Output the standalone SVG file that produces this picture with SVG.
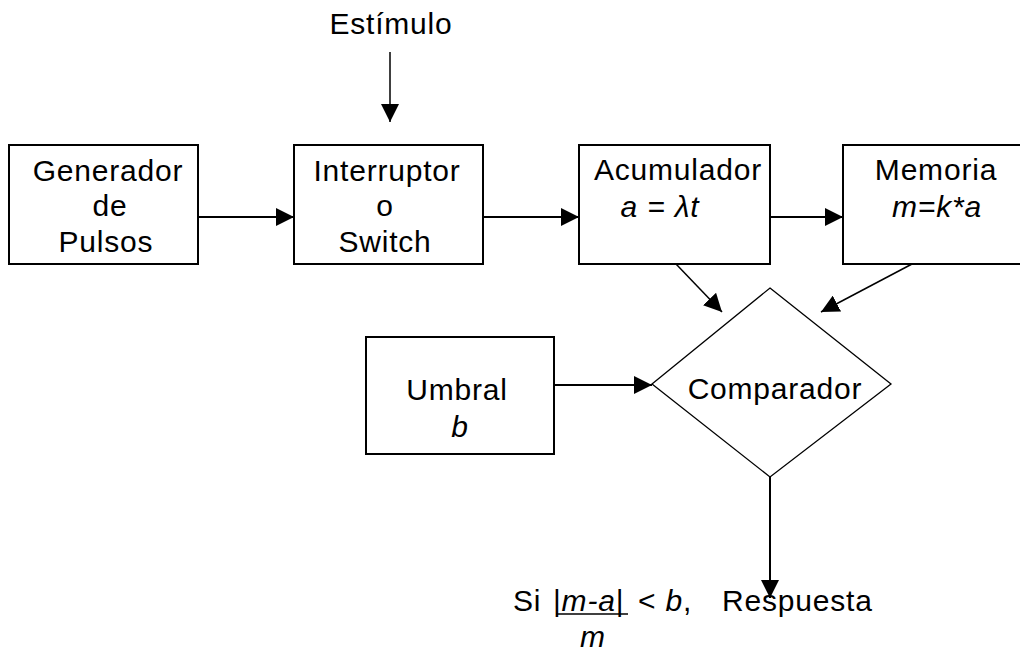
<svg xmlns="http://www.w3.org/2000/svg" width="1020" height="657" viewBox="0 0 1020 657">
<defs>
<style>
.box{fill:#fff;stroke:#000;stroke-width:2}
.dia{fill:#fff;stroke:#000;stroke-width:1.3}
.t{font-family:"Liberation Sans",Arial,sans-serif;font-size:30px;fill:#000;text-anchor:middle;letter-spacing:0.8px}
.l{text-anchor:start}
.i{font-style:italic}
.c{stroke:#000;stroke-width:1.5;fill:none}
.c2{stroke:#000;stroke-width:2;fill:none}
</style>
<marker id="ah" viewBox="0 0 18 18" markerWidth="18" markerHeight="18" refX="18" refY="9" orient="auto" markerUnits="userSpaceOnUse">
<path d="M0,0 L18,9 L0,18 Z" fill="#000"/>
</marker>
</defs>
<rect width="1020" height="657" fill="#fff"/>
<g id="connectors">
<line class="c" x1="390" y1="52" x2="390" y2="122" marker-end="url(#ah)"/>
<line class="c2" x1="198" y1="217" x2="294" y2="217" marker-end="url(#ah)"/>
<line class="c2" x1="483" y1="217" x2="579" y2="217" marker-end="url(#ah)"/>
<line class="c2" x1="770" y1="217" x2="843" y2="217" marker-end="url(#ah)"/>
<line class="c" x1="676" y1="264" x2="722" y2="312" marker-end="url(#ah)"/>
<line class="c" x1="912" y1="264" x2="821" y2="312" marker-end="url(#ah)"/>
<line class="c2" x1="554" y1="385" x2="652" y2="385" marker-end="url(#ah)"/>
<line class="c2" x1="770" y1="477" x2="770" y2="598" marker-end="url(#ah)"/>
</g>
<g id="estimulo">
<text class="t" x="391" y="34">Estímulo</text>
</g>
<g id="generador">
<rect class="box" x="9" y="145" width="189" height="119"/>
<text class="t" x="108" y="181">Generador</text>
<text class="t" x="110" y="216">de</text>
<text class="t" x="106" y="252">Pulsos</text>
</g>
<g id="interruptor">
<rect class="box" x="294" y="145" width="189" height="119"/>
<text class="t" x="387" y="181">Interruptor</text>
<text class="t" x="385" y="216">o</text>
<text class="t" x="385" y="252">Switch</text>
</g>
<g id="acumulador">
<rect class="box" x="579" y="145" width="191" height="119"/>
<text class="t" x="678" y="180">Acumulador</text>
<text class="t i" x="660" y="217">a = λt</text>
</g>
<g id="memoria">
<rect class="box" x="843" y="145" width="191" height="119"/>
<text class="t" x="936" y="180">Memoria</text>
<text class="t i" x="937" y="217">m=k*a</text>
</g>
<g id="umbral">
<rect class="box" x="366" y="337" width="188" height="117"/>
<text class="t" x="457" y="400">Umbral</text>
<text class="t i" x="460" y="437">b</text>
</g>
<g id="comparador">
<polygon class="dia" points="770,288 891,384 770,477 652,384"/>
<text class="t" x="775" y="399">Comparador</text>
</g>
<g id="respuesta">
<text class="t l" x="513" y="611">Si</text>
<text class="t l" x="553" y="611">|<tspan class="i">m-a</tspan>|</text>
<line x1="556" y1="614" x2="628" y2="614" stroke="#000" stroke-width="1.5"/>
<text class="t l" x="638" y="611">&lt; <tspan class="i">b</tspan>,</text>
<text class="t l" x="722" y="611">Respuesta</text>
<text class="t i" x="593" y="647">m</text>
</g>
</svg>
